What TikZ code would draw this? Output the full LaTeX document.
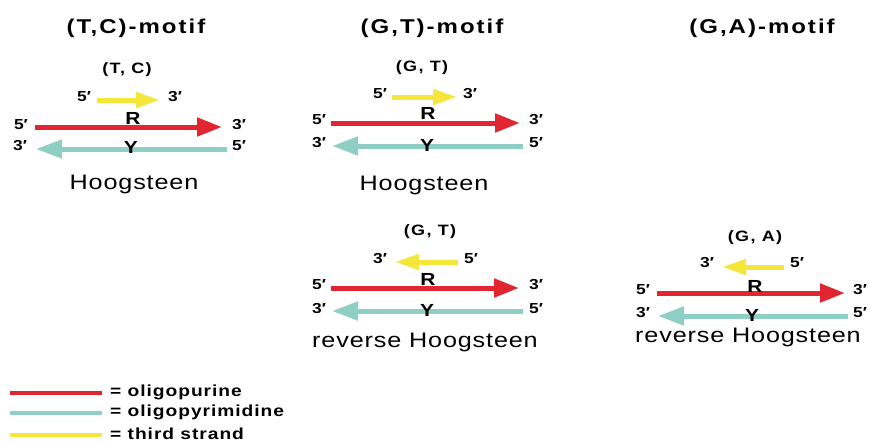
\documentclass[tikz,border=0pt]{standalone}
\usepackage{fontspec}
\setmainfont[FakeStretch=1.2]{Liberation Sans}
\newfontfamily\titlefont[FakeStretch=1.2,LetterSpace=10]{Liberation Sans}
\newfontfamily\pairfont[FakeStretch=1.2,LetterSpace=9]{Liberation Sans}
\newfontfamily\modefont[FakeStretch=1.2,LetterSpace=4]{Liberation Sans}
\newfontfamily\legfont[FakeStretch=1.2,LetterSpace=6]{Liberation Sans}
\usetikzlibrary{arrows.meta}
\definecolor{pur}{RGB}{224,38,48}
\definecolor{pyr}{RGB}{142,206,196}
\definecolor{thr}{RGB}{244,230,58}
\tikzset{
  purarrow/.style={draw=pur,line width=5pt,-{Triangle[length=25pt,width=18pt]}},
  pyrarrow/.style={draw=pyr,line width=5pt,-{Triangle[length=26pt,width=18pt]}},
  thrarrow/.style={draw=thr,line width=5pt,-{Triangle[length=24pt,width=15pt]}},
  legline/.style={line width=4pt},
  title/.style={font=\titlefont\fontsize{20}{23}\selectfont\bfseries,inner sep=0pt},
  pairlbl/.style={font=\pairfont\fontsize{15}{17}\selectfont\bfseries,inner sep=0pt},
  endlbl/.style={font=\fontsize{14.5}{16}\selectfont\bfseries,inner sep=0pt},
  strandlbl/.style={font=\fontsize{17.5}{20}\selectfont\bfseries,inner sep=0pt},
  modelbl/.style={font=\modefont\fontsize{21}{24}\selectfont,inner sep=0pt},
  leglbl/.style={font=\legfont\fontsize{16}{18}\selectfont\bfseries,inner sep=0pt,anchor=west},
}
\begin{document}
\begin{tikzpicture}[x=1pt,y=-1pt]
\useasboundingbox (0,0) rectangle (870,442);
% ---------- Panel 1: (T,C)-motif ----------
\node[title] (t1) at (136,28) {(T,C)-motif};
\node[pairlbl] (p1) at (127,70) {(T, C)};
\coordinate (y1s) at (97,100); \coordinate (y1e) at (160,100);
\node[endlbl] (y1l) at (84,97) {5′};
\node[endlbl] (y1r) at (175,97) {3′};
\draw[thrarrow] (y1s) -- (y1e);
\coordinate (r1s) at (35,127); \coordinate (r1e) at (222,127);
\draw[purarrow] (r1s) -- (r1e);
\node[endlbl] (r1l) at (21,125) {5′};
\node[endlbl] (r1r) at (239,125) {3′};
\node[strandlbl] (R1) at (133,118) {R};
\coordinate (c1s) at (227,149); \coordinate (c1e) at (36,149);
\draw[pyrarrow] (c1s) -- (c1e);
\node[endlbl] (c1l) at (20,146) {3′};
\node[endlbl] (c1r) at (239,146) {5′};
\node[strandlbl] (Y1) at (131,147) {Y};
\node[modelbl] (h1) at (134,184) {Hoogsteen};
% ---------- Panel 2: (G,T)-motif, Hoogsteen ----------
\node[title] (t2) at (432,28) {(G,T)-motif};
\node[pairlbl] (p2) at (422,68) {(G, T)};
\coordinate (y2s) at (392,97); \coordinate (y2e) at (457,97);
\draw[thrarrow] (y2s) -- (y2e);
\node[endlbl] (y2l) at (380,94) {5′};
\node[endlbl] (y2r) at (470,94) {3′};
\coordinate (r2s) at (331,123); \coordinate (r2e) at (520,123);
\draw[purarrow] (r2s) -- (r2e);
\node[endlbl] (r2l) at (319,120) {5′};
\node[endlbl] (r2r) at (536,120) {3′};
\node[strandlbl] (R2) at (428,113) {R};
\coordinate (c2s) at (523,146); \coordinate (c2e) at (332,146);
\draw[pyrarrow] (c2s) -- (c2e);
\node[endlbl] (c2l) at (319,143) {3′};
\node[endlbl] (c2r) at (536,143) {5′};
\node[strandlbl] (Y2) at (427,145) {Y};
\node[modelbl] (h2) at (424,185) {Hoogsteen};
% ---------- Panel 3: (G,T)-motif, reverse Hoogsteen ----------
\node[pairlbl] (p3) at (430,232) {(G, T)};
\coordinate (y3s) at (458,262); \coordinate (y3e) at (395,262);
\draw[thrarrow] (y3s) -- (y3e);
\node[endlbl] (y3l) at (380,259) {3′};
\node[endlbl] (y3r) at (471,259) {5′};
\coordinate (r3s) at (331,288); \coordinate (r3e) at (519,288);
\draw[purarrow] (r3s) -- (r3e);
\node[endlbl] (r3l) at (319,285) {5′};
\node[endlbl] (r3r) at (536,285) {3′};
\node[strandlbl] (R3) at (428,279) {R};
\coordinate (c3s) at (523,311); \coordinate (c3e) at (332,311);
\draw[pyrarrow] (c3s) -- (c3e);
\node[endlbl] (c3l) at (319,309) {3′};
\node[endlbl] (c3r) at (536,309) {5′};
\node[strandlbl] (Y3) at (427,310) {Y};
\node[modelbl] (h3) at (425,342) {reverse Hoogsteen};
% ---------- Panel 4: (G,A)-motif ----------
\node[title] (t4) at (762,28) {(G,A)-motif};
\node[pairlbl] (p4) at (755,238) {(G, A)};
\coordinate (y4s) at (784,267); \coordinate (y4e) at (722,267);
\draw[thrarrow] (y4s) -- (y4e);
\node[endlbl] (y4l) at (707,263) {3′};
\node[endlbl] (y4r) at (797,263) {5′};
\coordinate (r4s) at (657,293); \coordinate (r4e) at (845,293);
\draw[purarrow] (r4s) -- (r4e);
\node[endlbl] (r4l) at (643,290) {5′};
\node[endlbl] (r4r) at (860,290) {3′};
\node[strandlbl] (R4) at (755,286) {R};
\coordinate (c4s) at (848,316); \coordinate (c4e) at (658,316);
\draw[pyrarrow] (c4s) -- (c4e);
\node[endlbl] (c4l) at (643,313) {3′};
\node[endlbl] (c4r) at (860,313) {5′};
\node[strandlbl] (Y4) at (752,315) {Y};
\node[modelbl] (h4) at (748,337) {reverse Hoogsteen};
% ---------- Legend ----------
\coordinate (l1s) at (10,393); \coordinate (l1e) at (102,393);
\coordinate (l2s) at (10,413); \coordinate (l2e) at (102,413);
\coordinate (l3s) at (10,435); \coordinate (l3e) at (102,435);
\draw[legline,pur] (l1s) -- (l1e);
\draw[legline,pyr] (l2s) -- (l2e);
\draw[legline,thr] (l3s) -- (l3e);
\node[leglbl] (g1) at (110,392) {= oligopurine};
\node[leglbl] (g2) at (110,412) {= oligopyrimidine};
\node[leglbl] (g3) at (110,434) {= third strand};
\end{tikzpicture}
\end{document}
